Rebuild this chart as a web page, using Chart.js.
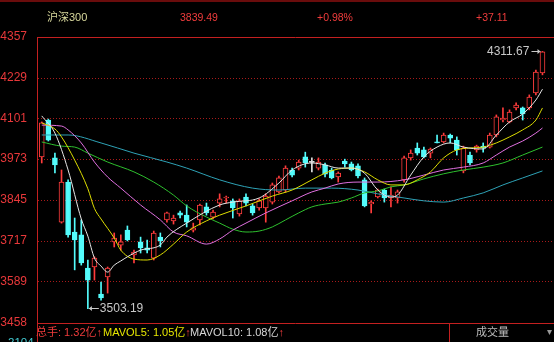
<!DOCTYPE html>
<html><head><meta charset="utf-8">
<script src="https://cdn.jsdelivr.net/npm/chart.js@4.4.0/dist/chart.umd.min.js"></script>
<style>
html,body{margin:0;padding:0;background:#000;width:554px;height:342px;overflow:hidden;}
#wrap{position:absolute;left:0;top:0;width:554px;height:342px;}
.t{position:absolute;white-space:nowrap;line-height:1;font-family:"Liberation Sans","Noto Sans CJK SC",sans-serif;}
.r{color:#f03c3c;}
</style></head><body>
<div id="wrap"><canvas id="c"></canvas></div>
<div class="t" style="left:47px;top:12px;font-size:11px;color:#d8d89c">沪深300</div>
<div class="t r" style="left:180px;top:12px;font-size:10.5px">3839.49</div>
<div class="t r" style="left:317px;top:12px;font-size:10.5px">+0.98%</div>
<div class="t r" style="left:476px;top:12px;font-size:10.5px">+37.11</div>
<div class="t r" style="left:36px;top:327px;font-size:11px">总手: 1.32亿↑</div>
<div class="t" style="left:103px;top:327px;font-size:11px;color:#e6e600">MAVOL5: 1.05亿<span class="r">↑</span></div>
<div class="t" style="left:190px;top:327px;font-size:11px;color:#d8d8d8">MAVOL10: 1.08亿<span class="r">↑</span></div>
<div class="t" style="left:476px;top:327px;font-size:11px;color:#bdbdbd">成交量</div>
<div class="t" style="left:547px;top:327px;font-size:10px;color:#999">▾</div>
<div class="t" style="left:8px;top:337px;font-size:11.5px;color:#40c8d0">2104</div>
<script>
// ---- data ----
const tickValues = [3458, 3589, 3717, 3845, 3973, 4101, 4229, 4357];
const opens  = [3980,4096,3977,3775,3901,3744,3735,3631,3634,3549,3603,3713,3703,3750,3672,3713,3694,3662,3728,3782,3779,3804,3797,3750,3782,3823,3791,3835,3851,3842,3801,3854,3826,3820,3820,3838,3870,3876,3939,3945,3980,3963,3945,3955,3939,3917,3967,3958,3952,3908,3832,3854,3876,3851,3851,3908,3977,4008,4002,3992,4027,4027,4049,4033,3936,3986,4002,4014,4011,4049,4096,4090,4134,4134,4134,4181,4244];
const highs  = [4090,4099,3992,3939,3908,3788,3782,3656,3666,3587,3634,3741,3735,3763,3687,3728,3719,3747,3741,3807,3797,3810,3829,3772,3832,3835,3813,3864,3857,3848,3848,3864,3832,3848,3864,3898,3920,3952,3945,3970,3995,3977,3977,3961,3945,3933,3973,3964,3958,3914,3842,3879,3879,3886,3876,3983,4002,4024,4011,4008,4049,4055,4052,4043,4014,3995,4017,4024,4055,4112,4134,4128,4150,4137,4175,4253,4311.67];
const lows   = [3961,4030,3930,3772,3728,3625,3640,3503.19,3593,3530,3552,3697,3687,3716,3647,3678,3678,3656,3697,3775,3769,3788,3760,3744,3766,3797,3785,3823,3835,3788,3794,3826,3797,3813,3775,3832,3867,3870,3917,3939,3948,3933,3939,3917,3911,3901,3948,3936,3914,3823,3804,3851,3838,3823,3835,3901,3970,3986,3977,3977,4024,4024,4024,3986,3930,3955,3995,3995,4008,4043,4090,4087,4128,4096,4128,4175,4238];
const closes = [4087,4033,3955,3901,3735,3719,3647,3593,3662,3537,3631,3725,3713,3719,3681,3694,3687,3741,3716,3804,3788,3797,3775,3757,3829,3804,3807,3848,3854,3820,3842,3835,3804,3842,3857,3892,3914,3945,3923,3964,3961,3963,3964,3926,3914,3929,3958,3939,3920,3826,3838,3876,3851,3860,3870,3977,3992,3992,3980,4005,4024,4049,4039,4002,4008,3961,4014,4008,4049,4106,4102,4121,4143,4115,4168,4247,4310];
// moving-average readings: [day index, value]
const ma5  = [[0,4109],[2,4055],[4,3939],[6,3785],[7,3731],[8,3662],[9,3637],[10,3618],[11,3640],[12,3653],[13,3666],[15,3687],[18,3703],[19,3728],[22,3772],[27,3829],[29,3838],[33,3851],[36,3898],[38,3939],[41,3961],[43,3955],[45,3945],[47,3945],[49,3929],[51,3876],[53,3854],[54,3860],[56,3923],[58,3980],[60,4011],[62,4024],[64,4011],[67,4005],[69,4049],[71,4090],[73,4115],[75,4159],[76,4193]];
const ma10 = [[0,4087],[2,4068],[3,4043],[5,3970],[7,3880],[8,3818],[9,3785],[11,3725],[12,3687],[14,3659],[16,3656],[18,3672],[20,3706],[22,3744],[25,3779],[27,3797],[31,3826],[35,3857],[38,3876],[41,3908],[43,3929],[45,3942],[47,3945],[49,3933],[51,3908],[53,3892],[55,3892],[57,3908],[59,3933],[61,3977],[63,4002],[65,4008],[67,4011],[69,4024],[71,4043],[73,4065],[75,4096],[76,4134]];
const ma20 = [[0,4080],[3,4077],[4,4065],[6,4024],[8,3964],[10,3917],[12,3882],[15,3829],[18,3782],[20,3744],[22,3732],[25,3706],[27,3722],[29,3750],[31,3772],[34,3804],[38,3842],[41,3870],[43,3882],[45,3895],[48,3901],[51,3901],[55,3908],[58,3923],[61,3939],[64,3948],[67,3961],[69,3986],[71,4011],[73,4030],[75,4055],[76,4071]];
const ma30 = [[0,4027],[3,4014],[5,4011],[7,3992],[10,3964],[14,3933],[17,3901],[20,3860],[22,3826],[25,3791],[27,3772],[29,3753],[31,3744],[33,3747],[35,3760],[37,3782],[39,3804],[41,3823],[43,3832],[45,3838],[47,3851],[49,3867],[51,3873],[53,3886],[55,3892],[58,3911],[61,3927],[64,3939],[67,3948],[70,3961],[73,3986],[76,4011]];
const ma60 = [[0,4049],[4,4049],[9,4024],[14,3992],[19,3964],[22,3945],[27,3908],[32,3882],[36,3876],[40,3882],[44,3882],[48,3876],[51,3864],[55,3851],[58,3842],[61,3838],[64,3851],[67,3867],[70,3892],[73,3914],[76,3936]];
const lowIndex = 7, highIndex = 76;

// ---- styles ----
const UP = '#ff3c3c', DOWN = '#54fcfc', FLAT = '#e0e0e0';
const dir = opens.map((o,i)=> closes[i] > o ? UP : (closes[i] < o ? DOWN : FLAT));
const pts = a => a.map(([i,v]) => ({x:i, y:v}));
const lineDs = (data, color) => ({type:'line', data:pts(data), borderColor:color, borderWidth:1, pointRadius:0, cubicInterpolationMode:'monotone', fill:false, order:0});

const framePlugin = {
  id:'frame',
  beforeDraw(chart){
    const {ctx, chartArea:a, scales:{y}} = chart;
    ctx.save();
    ctx.strokeStyle = '#a81a1a'; ctx.lineWidth = 1; ctx.setLineDash([1,2]);
    tickValues.forEach((v,k) => {
      if (k === 0 || k === tickValues.length-1) return;
      const py = Math.round(y.getPixelForValue(v)) + 0.5;
      ctx.beginPath(); ctx.moveTo(a.left + 1, py); ctx.lineTo(a.right, py); ctx.stroke();
    });
    ctx.restore();
  },
  afterDraw(chart){
    const {ctx, chartArea:a, scales:{x,y}} = chart;
    ctx.save();
    ctx.fillStyle = '#6a0c0c'; ctx.fillRect(0, 0, chart.width, 2);
    ctx.strokeStyle = '#c42020'; ctx.lineWidth = 1;
    const top = Math.round(a.top)+0.5, bot = Math.round(a.bottom)+0.5, left = Math.round(a.left)+0.5;
    ctx.beginPath();
    ctx.moveTo(a.left, top); ctx.lineTo(chart.width, top);
    ctx.moveTo(a.left, bot); ctx.lineTo(chart.width, bot);
    ctx.moveTo(left, a.top); ctx.lineTo(left, chart.height);
    ctx.moveTo(449.5, a.bottom); ctx.lineTo(449.5, chart.height);
    ctx.stroke();
    // annotations
    ctx.font = '12px "Liberation Sans", sans-serif';
    ctx.fillStyle = '#c8c8c8'; ctx.strokeStyle = '#c8c8c8';
    ctx.textBaseline = 'middle';
    const hx = x.getPixelForValue(highIndex), hy = Math.round(y.getPixelForValue(highs[highIndex]))+0.5;
    ctx.beginPath(); ctx.moveTo(hx-11, hy); ctx.lineTo(hx-2, hy); ctx.stroke();
    ctx.beginPath(); ctx.moveTo(hx-2, hy); ctx.lineTo(hx-5, hy-2.5); ctx.lineTo(hx-5, hy+2.5); ctx.closePath(); ctx.fill();
    ctx.textAlign = 'right'; ctx.fillText(highs[highIndex].toFixed(2), hx-13, hy);
    const lx = x.getPixelForValue(lowIndex), ly = Math.round(y.getPixelForValue(lows[lowIndex]))-0.5;
    ctx.beginPath(); ctx.moveTo(lx+1, ly); ctx.lineTo(lx+11, ly); ctx.stroke();
    ctx.beginPath(); ctx.moveTo(lx+1, ly); ctx.lineTo(lx+4, ly-2.5); ctx.lineTo(lx+4, ly+2.5); ctx.closePath(); ctx.fill();
    ctx.textAlign = 'left'; ctx.fillText(lows[lowIndex].toFixed(2), lx+12, ly);
    ctx.restore();
  }
};

new Chart(document.getElementById('c'), {
  type:'bar',
  data:{
    datasets:[
      lineDs(ma5, '#e6e6e6'),
      lineDs(ma10, '#dede00'),
      lineDs(ma20, '#e070e0'),
      lineDs(ma30, '#2ec02e'),
      lineDs(ma60, '#2ea2b6'),
      { data: opens.map((o,i)=>({x:i, y:[o, closes[i]]})),
        backgroundColor: dir.map(c => c === UP ? '#000000' : c),
        borderColor: dir, borderWidth:1, borderSkipped:false,
        barThickness:5, minBarLength:1, grouped:false, order:1 },
      { data: lows.map((l,i)=>({x:i, y:[l, highs[i]]})),
        backgroundColor: dir, borderWidth:0,
        barThickness:1, grouped:false, order:2 }
    ]
  },
  options:{
    animation:false, responsive:true, maintainAspectRatio:false,
    layout:{padding:{top:37, bottom:19, left:0, right:0}},
    plugins:{legend:{display:false}, tooltip:{enabled:false}},
    scales:{
      x:{type:'linear', min:-0.72, max:77.75, offset:false, display:false},
      y:{type:'linear', min:3458, max:4357, beginAtZero:false,
         afterBuildTicks: s => { s.ticks = tickValues.map(v => ({value:v})); },
         afterFit: s => { s.width = 37; },
         grid:{display:false}, border:{display:false},
         ticks:{color:'#e8383a', padding:2, font:{family:'Liberation Sans', size:12}, callback: v => String(v)}}
    }
  },
  plugins:[framePlugin]
});
</script>
</body></html>
